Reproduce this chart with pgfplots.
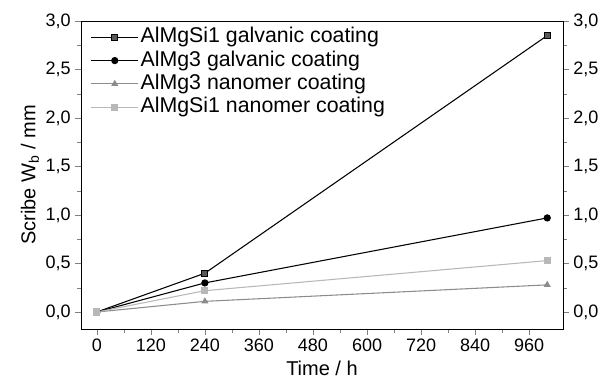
\documentclass[border=0pt]{standalone}
\usepackage{fontspec}
\setmainfont{Liberation Sans}
\usepackage{pgfplots}
\pgfplotsset{compat=1.18}
\definecolor{sqdark}{gray}{0.35}
\definecolor{trigray}{gray}{0.55}
\definecolor{sqlight}{gray}{0.72}
\begin{document}
\begin{tikzpicture}
\path[use as bounding box] (-60.75pt,-47.25pt) rectangle (391.5pt,246.75pt);
\begin{axis}[
  at={(0pt,0pt)}, anchor=south west,
  width=361.5pt, height=231pt, scale only axis,
  xmin=-35, xmax=1035, ymin=-0.175, ymax=3.0,
  xtick={0,120,...,960}, minor x tick num=1,
  ytick={0,0.5,...,3.0}, minor y tick num=1,
  tick align=outside, tick pos=left,
  /pgf/number format/assume math mode=true,
  yticklabel style={/pgf/number format/.cd, fixed, fixed zerofill, precision=1, use comma},
  xticklabel style={/pgf/number format/.cd, fixed},
  ticklabel style={font=\fontsize{13.5}{15}\selectfont},
  label style={font=\fontsize{15}{17}\selectfont},
  xlabel={Time / h}, ylabel={Scribe W\textsubscript{b} / mm},
  ylabel style={yshift=-2pt},
  legend style={draw=none, fill=none, inner sep=0pt, at={(0.02,0.986)}, anchor=north west,
    font=\fontsize{16}{18}\selectfont, row sep=0pt,
    nodes={text height=11.5pt, text depth=3pt, inner ysep=1.5pt, inner xsep=1.5pt}},
  legend cell align=left,
  legend image code/.code={\draw[mark repeat=2,mark phase=2] plot coordinates {(0pt,0pt) (17.5pt,0pt) (35pt,0pt)};},
  every axis plot/.append style={line width=0.8pt, mark size=2.3pt},
]
\addplot[black, mark=square*, mark options={fill=sqdark}] coordinates {(0,0) (240,0.40) (1000,2.85)};
\addlegendentry{AlMgSi1 galvanic coating}
\addplot[black, mark=*, mark options={fill=black}] coordinates {(0,0) (240,0.30) (1000,0.97)};
\addlegendentry{AlMg3 galvanic coating}
\addplot[trigray, mark=triangle*, mark options={fill=trigray}] coordinates {(0,0) (240,0.11) (1000,0.28)};
\addlegendentry{AlMg3 nanomer coating}
\addplot[sqlight, mark=square*, mark options={fill=sqlight}] coordinates {(0,0) (240,0.22) (1000,0.53)};
\addlegendentry{AlMgSi1 nanomer coating}
\end{axis}
\begin{axis}[
  at={(0pt,0pt)}, anchor=south west,
  width=361.5pt, height=231pt, scale only axis,
  xmin=-35, xmax=1035, ymin=-0.175, ymax=3.0,
  axis x line=none, axis y line*=right,
  ytick={0,0.5,...,3.0}, minor y tick num=1,
  tick align=outside,
  /pgf/number format/assume math mode=true,
  yticklabel style={/pgf/number format/.cd, fixed, fixed zerofill, precision=1, use comma},
  ticklabel style={font=\fontsize{13.5}{15}\selectfont},
]
\end{axis}
\end{tikzpicture}
\end{document}
